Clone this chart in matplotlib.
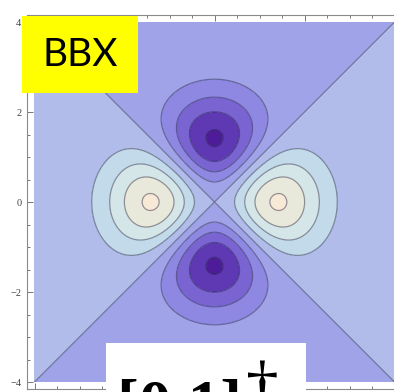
import numpy as np
import matplotlib
matplotlib.use("Agg")
import matplotlib.pyplot as plt
from matplotlib.patches import Rectangle

# d-like orbital: f(x, y) = (x^2 - y^2) * exp(-(x^2 + y^2) / 2)
x_range = [-4, 4]
y_range = [-4, 4]
levels = [-0.8, -0.71, -0.54, -0.36, -0.18, 0.0, 0.18, 0.36, 0.54, 0.71, 0.8]
band_colors = ["#4E1C98", "#5F38B4", "#7A64D2", "#8E88E2", "#A0A3E8",
               "#B1BCEA", "#C3DAEA", "#D5E6E8", "#E9E9DB", "#F8E9D7"]
major_ticks = [-4, -2, 0, 2, 4]
minor_ticks = np.arange(-4, 4.01, 0.5)
badge_text = "BBX"
caption_text = "[0 1]"

W, H = 394, 392
fig = plt.figure(figsize=(W / 100, H / 100), dpi=100)
fig.patch.set_facecolor("white")

# axes frame in pixels: left 27, right 402, top 15.25, bottom 388.75
ax = fig.add_axes([27 / W, 1 - 388.75 / H, 375 / W, 373.5 / H])

x = np.linspace(x_range[0], x_range[1], 401)
y = np.linspace(y_range[0], y_range[1], 401)
X, Y = np.meshgrid(x, y)
Z = (X**2 - Y**2) * np.exp(-(X**2 + Y**2) / 2)

ax.contourf(X, Y, Z, levels=levels, colors=band_colors)
ax.contour(X, Y, Z, levels=levels[1:-1], colors="#202040", alpha=0.45,
           linewidths=0.9, linestyles="solid")

pad = 7.5 / 45
ax.set_xlim(-4 - pad, 4 + pad)
ax.set_ylim(-4 - 0.15, 4 + 0.15)

for s in ax.spines.values():
    s.set_color("#8a8a8a")
    s.set_linewidth(0.8)

ax.set_xticks(major_ticks)
ax.set_yticks(major_ticks)
ax.set_xticks(minor_ticks, minor=True)
ax.set_yticks(minor_ticks, minor=True)
ax.tick_params(which="both", direction="in", top=True, right=True,
               color="#777777", width=0.7, labelbottom=False)
ax.tick_params(which="major", length=4)
ax.tick_params(which="minor", length=2.5)
ax.set_yticklabels([f"{t}".replace("-", "\u2212") for t in major_ticks],
                   family="Liberation Serif", fontsize=7.5, color="#444444")
ax.tick_params(axis="y", pad=4)

# yellow badge top-left
fig.add_artist(Rectangle((22 / W, 1 - 93 / H), 116 / W, 77 / H,
                         transform=fig.transFigure, facecolor="#FFFF00",
                         edgecolor="none", zorder=5))
fig.text(80 / W, 1 - 55 / H, badge_text, family="Lato", fontsize=28,
         ha="center", va="center", color="black", zorder=6)

# white caption box at the bottom, text runs past the lower edge
fig.add_artist(Rectangle((106 / W, -0.05), 200 / W, 1 - 343 / H + 0.05,
                         transform=fig.transFigure, facecolor="white",
                         edgecolor="none", zorder=5))
fig.text(117 / W, 1 - 424 / H, caption_text, family="Liberation Serif",
         weight="bold", fontsize=47, ha="left", va="baseline",
         color="black", zorder=6)
fig.text(246 / W, 1 - 406 / H, "\u2020", family="Liberation Serif",
         fontsize=47, ha="left", va="baseline", color="black", zorder=6)

fig.savefig("out.png", dpi=100)
